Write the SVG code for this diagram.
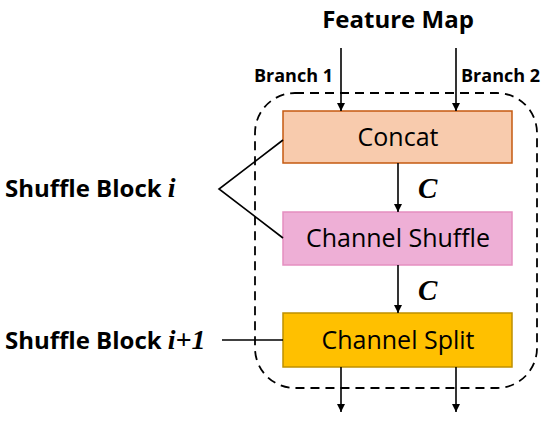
<svg xmlns="http://www.w3.org/2000/svg" width="550" height="425" viewBox="0 0 550 425">
<defs>
<marker id="ah" viewBox="0 0 10 10" refX="10" refY="5" markerWidth="8" markerHeight="8" orient="auto" markerUnits="userSpaceOnUse"><path d="M0,0 L10,5 L0,10 z" fill="#000"/></marker>
<style>
.lbl{font-family:"Open Sans","Liberation Sans",sans-serif;fill:#000}
.b{font-weight:bold}
.ser{font-family:"Liberation Serif",serif;font-style:italic}
.ln{stroke:#000;stroke-width:1.6;fill:none}
.ar{stroke:#000;stroke-width:1.6;fill:none;marker-end:url(#ah)}
</style>
</defs>
<rect width="550" height="425" fill="#fff"/>
<rect x="255" y="93" width="282" height="295" rx="40" ry="40" fill="none" stroke="#000" stroke-width="1.8" stroke-dasharray="9,6"/>
<g id="concat"><rect x="283" y="111" width="229" height="52" fill="#F8CBAD" stroke="#C55A11" stroke-width="1.5"/><text class="lbl" x="398" y="146" font-size="25" text-anchor="middle">Concat</text></g>
<g id="shuffle"><rect x="283" y="212" width="229" height="53" fill="#EEAFD6" stroke="#E58FC0" stroke-width="1.5"/><text class="lbl" x="398" y="247" font-size="25" text-anchor="middle">Channel Shuffle</text></g>
<g id="split"><rect x="283" y="313" width="229" height="54" fill="#FFC000" stroke="#BF9000" stroke-width="1.5"/><text class="lbl" x="398" y="349" font-size="25" text-anchor="middle">Channel Split</text></g>
<g id="labels">
<text class="lbl b" x="398" y="28" font-size="24" text-anchor="middle">Feature Map</text>
<text class="lbl b" x="333" y="82" font-size="18" text-anchor="end">Branch 1</text>
<text class="lbl b" x="461" y="82" font-size="18">Branch 2</text>
<text class="ser b" x="418" y="198" font-size="29">C</text>
<text class="ser b" x="418" y="300" font-size="29">C</text>
<text class="lbl b" x="5" y="197" font-size="24">Shuffle Block <tspan class="ser" font-size="28">i</tspan></text>
<text class="lbl b" x="5" y="349" font-size="24">Shuffle Block <tspan class="ser" font-size="28">i+1</tspan></text>
</g>
<g id="connectors">
<line class="ar" x1="341" y1="48" x2="341" y2="111"/>
<line class="ar" x1="456" y1="48" x2="456" y2="111"/>
<line class="ar" x1="398" y1="163" x2="398" y2="212"/>
<line class="ar" x1="398" y1="265" x2="398" y2="313"/>
<line class="ar" x1="341" y1="367" x2="341" y2="412"/>
<line class="ar" x1="456" y1="367" x2="456" y2="412"/>
<polyline class="ln" points="283,140 219,189 283,238"/>
<line class="ln" x1="222" y1="340" x2="283" y2="340"/>
</g>
</svg>
